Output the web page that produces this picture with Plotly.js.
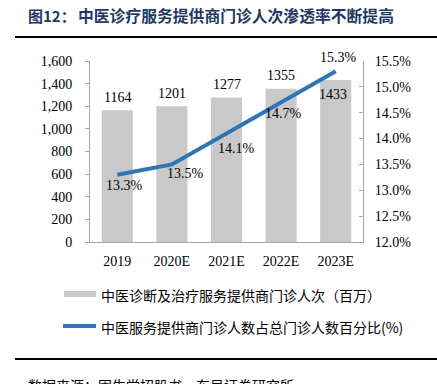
<!DOCTYPE html>
<html><head><meta charset="utf-8">
<script src="https://cdn.plot.ly/plotly-3.0.1.min.js"></script>
<style>body{margin:0;padding:0;background:#fff}#c{width:437px;height:384px}</style>
</head><body><div id="c"></div>
<script>
var categories = ["2019", "2020E", "2021E", "2022E", "2023E"];
var visits = [1164, 1201, 1277, 1355, 1433];
var share = [13.3, 13.5, 14.1, 14.7, 15.3];
var barName = "中医诊断及治疗服务提供商门诊人次（百万）";
var lineName = "中医服务提供商门诊人数占总门诊人数百分比(%)";
var titlePrefix = "图12：";
var titleText = "中医诊疗服务提供商门诊人次渗透率不断提高";
var sourceText = "数据来源：固生堂招股书，东吴证券研究所";

var serif = "Liberation Serif, Times New Roman, serif";
var cjk = "Noto Sans CJK SC, sans-serif";
var barColor = "#c9c9c9", lineColor = "#2e75b6";

function px(x) { return (x - 90) / 273; }
function py(y) { return (242 - y) / 181; }

var barLabelOffsets = [[0, 13], [0, 13], [0, 13], [0, 13], [-3, -15]];
var lineLabelOffsets = [[7, -11], [14, -9], [10, -15], [2, -11], [3, 14]];

var ann = [];
categories.forEach(function (c, i) {
  ann.push({x: i, y: visits[i], xref: "x", yref: "y", text: String(visits[i]), showarrow: false,
    xshift: barLabelOffsets[i][0], yshift: barLabelOffsets[i][1],
    font: {family: serif, size: 14, color: "#000"}});
  ann.push({x: i, y: share[i], xref: "x", yref: "y2", text: share[i].toFixed(1) + "%", showarrow: false,
    xshift: lineLabelOffsets[i][0], yshift: lineLabelOffsets[i][1],
    font: {family: serif, size: 14, color: "#000"}});
});
ann.push({xref: "paper", yref: "paper", x: px(26), y: py(15), xanchor: "left", yanchor: "middle",
  text: "<b>" + titlePrefix + "</b>", showarrow: false, font: {family: cjk, size: 15, color: "#1f3864"}});
ann.push({xref: "paper", yref: "paper", x: px(76), y: py(15), xanchor: "left", yanchor: "middle",
  text: "<b>" + titleText + "</b>", showarrow: false, font: {family: cjk, size: 15.8, color: "#1f3864"}});
ann.push({xref: "paper", yref: "paper", x: px(26), y: py(385), xanchor: "left", yanchor: "middle",
  text: sourceText, showarrow: false, font: {family: cjk, size: 14, color: "#000"}});
ann.push({xref: "paper", yref: "paper", x: px(99), y: py(295), xanchor: "left", yanchor: "middle",
  text: barName, showarrow: false, font: {family: cjk, size: 14, color: "#000"}});
ann.push({xref: "paper", yref: "paper", x: px(99), y: py(327), xanchor: "left", yanchor: "middle",
  text: lineName, showarrow: false, font: {family: cjk, size: 14, color: "#000"}});

var data = [
  {type: "bar", x: categories, y: visits, name: barName, marker: {color: barColor}, yaxis: "y"},
  {type: "scatter", mode: "lines", x: categories, y: share, name: lineName, yaxis: "y2",
   line: {color: lineColor, width: 4}}
];

var layout = {
  width: 437, height: 384,
  margin: {l: 90, r: 74, t: 61, b: 142},
  paper_bgcolor: "#fff", plot_bgcolor: "#fff",
  showlegend: false,
  bargap: 0.43,
  xaxis: {type: "category", showline: true, linecolor: "#a6a6a6", linewidth: 1, ticks: "", showgrid: false,
    tickfont: {family: serif, size: 14, color: "#000"}, ticklabelstandoff: 6},
  yaxis: {range: [0, 1600], dtick: 200, tickformat: ",", showgrid: false, zeroline: false,
    showline: true, linecolor: "#a6a6a6", ticks: "outside", ticklen: 4, tickcolor: "#a6a6a6",
    tickfont: {family: serif, size: 14, color: "#000"}, ticklabelstandoff: 10},
  yaxis2: {overlaying: "y", side: "right", range: [12, 15.5], dtick: 0.5, tickformat: ".1f", ticksuffix: "%",
    showgrid: false, zeroline: false, showline: true, linecolor: "#a6a6a6", ticks: "inside", ticklen: 4,
    tickcolor: "#a6a6a6", tickfont: {family: serif, size: 14, color: "#000"}, ticklabelstandoff: 8},
  annotations: ann,
  shapes: [
    {type: "line", xref: "paper", yref: "paper", x0: px(15), x1: px(437), y0: py(37), y1: py(37),
     line: {color: "#000", width: 2}},
    {type: "line", xref: "paper", yref: "paper", x0: px(15), x1: px(437), y0: py(359), y1: py(359),
     line: {color: "#000", width: 2}},
    {type: "rect", xref: "paper", yref: "paper", x0: px(64), x1: px(96), y0: py(297), y1: py(291),
     fillcolor: barColor, line: {width: 0}},
    {type: "line", xref: "paper", yref: "paper", x0: px(63), x1: px(96), y0: py(326), y1: py(326),
     line: {color: lineColor, width: 4}}
  ]
};
Plotly.newPlot("c", data, layout, {displayModeBar: false, staticPlot: true});
</script></body></html>
